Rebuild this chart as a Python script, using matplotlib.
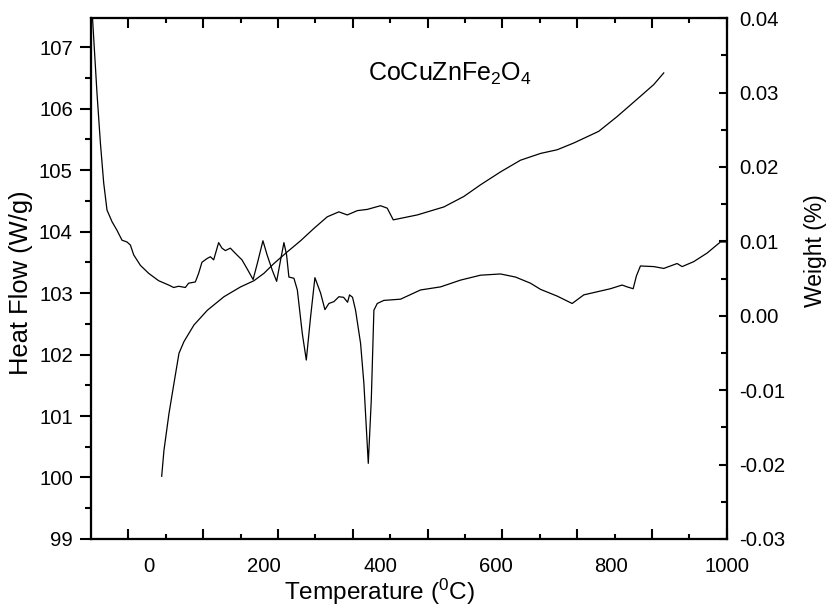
import numpy as np
import matplotlib
matplotlib.use("Agg")
import matplotlib.pyplot as plt

plt.rcParams['font.family'] = ['Liberation Sans', 'DejaVu Sans']
plt.rcParams['mathtext.fontset'] = 'custom'
plt.rcParams['mathtext.rm'] = 'Liberation Sans'
plt.rcParams['mathtext.it'] = 'Liberation Sans'

# heat flow curve (DSC), W/g
dsc_t = [-97, -89.4, -83.5, -77.8, -72.1, -63.4, -54.8, -46.2, -37.5, -31.6,
         -25.9, -14.3, 0, 17.3, 34.6, 43.2, 51.9, 63.4, 69.1, 80.7,
         86.4, 92.1, 100.8, 106.7, 112.4, 121.0, 126.7, 132.6, 141.2, 152.6,
         161.3, 169.9, 180.6, 188.4, 197.6, 204.8, 213.8, 221.3, 228.2, 233.9,
         238.5, 242.5, 251.2, 257.1, 265.7, 272.6, 280.0, 287.5, 297.3, 304.8,
         311.7, 320.3, 329.0, 337.1, 344.0, 347.4, 352.6, 357.8, 366.5, 372.2,
         379.8, 385.0, 389.5, 395.3, 406.7, 435.6, 470.2, 504.8, 539.3, 573.9,
         608.5, 634.4, 660.3, 677.6, 706.5, 732.4, 752.5, 775.6, 798.6, 818.8,
         827.5, 837.9, 843.6, 850.5, 873.5, 890.8, 913.9, 922.6, 942.6, 965.8,
         988.8, 999.1]
dsc_hf = [107.45, 106.25, 105.44, 104.79, 104.35, 104.16, 104.02, 103.86, 103.83, 103.78,
          103.62, 103.45, 103.32, 103.20, 103.13, 103.09, 103.11, 103.09, 103.16, 103.18,
          103.32, 103.50, 103.56, 103.59, 103.54, 103.82, 103.73, 103.69, 103.73, 103.62,
          103.54, 103.40, 103.22, 103.50, 103.85, 103.62, 103.37, 103.19, 103.54, 103.82,
          103.62, 103.26, 103.24, 103.05, 102.34, 101.91, 102.61, 103.25, 103.00, 102.73,
          102.83, 102.86, 102.94, 102.93, 102.85, 102.97, 102.93, 102.72, 102.18, 101.53,
          100.23, 101.26, 102.72, 102.83, 102.88, 102.90, 103.05, 103.10, 103.21, 103.29,
          103.31, 103.26, 103.16, 103.06, 102.95, 102.83, 102.97, 103.02, 103.07, 103.13,
          103.10, 103.07, 103.28, 103.44, 103.43, 103.40, 103.48, 103.43, 103.51, 103.65,
          103.83, 103.83]

# weight curve (TGA), drawn against the left scale
tga_t = [22.5, 26.4, 35.1, 43.7, 52.4, 61.0, 78.3, 101.5, 130.2, 159.0,
         182.0, 199.3, 216.6, 239.8, 262.7, 285.7, 308.9, 328.9, 343.5, 360.8,
         378.0, 401.0, 412.6, 423.0, 464.5, 510.5, 545.0, 573.9, 608.5, 643.0,
         677.6, 706.5, 735.2, 778.4, 810.2, 850.5, 873.5, 890.8]
tga_w = [100.02, 100.44, 101.04, 101.53, 102.02, 102.21, 102.48, 102.72, 102.94, 103.10,
         103.20, 103.32, 103.48, 103.67, 103.85, 104.05, 104.24, 104.32, 104.27, 104.34,
         104.36, 104.42, 104.38, 104.19, 104.27, 104.40, 104.57, 104.76, 104.97, 105.16,
         105.27, 105.33, 105.44, 105.63, 105.87, 106.20, 106.39, 106.58]

x_labels = [0, 200, 400, 600, 800, 1000]
left_ticks = [99, 100, 101, 102, 103, 104, 105, 106, 107]
right_ticks = [-0.03, -0.02, -0.01, 0.00, 0.01, 0.02, 0.03, 0.04]

fig = plt.figure(figsize=(8.26, 6.06), dpi=100)
ax = fig.add_axes([0.110, 0.1106, 0.770, 0.8594])

ax.plot(dsc_t, dsc_hf, color='black', lw=0.9)
ax.plot(tga_t, tga_w, color='black', lw=0.9)

ax.set_xlim(-100, 1000)
ax.set_ylim(99, 107.47)

# x labels without marks
ax.set_xticks(x_labels)
ax.set_xticklabels([str(v) for v in x_labels])
ax.tick_params(axis='x', length=0, pad=13, labelsize=14.6)

# left axis
ax.set_yticks(left_ticks)
ax.set_yticks(np.arange(99.5, 107.5, 1.0), minor=True)
ax.tick_params(axis='y', which='major', direction='out', length=8, width=1.5,
               labelsize=14.6, pad=5)
ax.tick_params(axis='y', which='minor', direction='out', length=4, width=1.5)

# x tick marks, offset from labels as in the original
axm = ax.twiny()
axm.set_xlim(-100, 1000)
step = 1100 / 8.5
axm.set_xticks(-100 + step * (np.arange(9) + 0.5))
axm.set_xticks(-100 + step * np.arange(1, 9), minor=True)
axm.tick_params(axis='x', which='both', bottom=True, top=True,
                labelbottom=False, labeltop=False, direction='in', width=1.5)
axm.tick_params(axis='x', which='major', length=7)
axm.tick_params(axis='x', which='minor', length=3.5)

# right axis
axr = ax.twinx()
axr.set_ylim(-0.03, 0.04)
axr.set_yticks(right_ticks)
axr.set_yticklabels(['%.2f' % v for v in right_ticks])
axr.set_yticks(np.arange(-0.025, 0.04, 0.01), minor=True)
axr.tick_params(axis='y', which='major', direction='in', length=6, width=1.5,
                labelsize=14.6, pad=8.6)
axr.tick_params(axis='y', which='minor', direction='in', length=4, width=1.5)

for a in (ax, axm, axr):
    for s in a.spines.values():
        s.set_linewidth(1.5)

ax.set_xlabel('Temperature ($^0$C)', fontsize=17.6)
ax.xaxis.label.set_va('baseline')
ax.xaxis.set_label_coords(0.4544, -0.117)
ax.set_ylabel('Heat Flow (W/g)', fontsize=18.4)
ax.yaxis.set_label_coords(-0.0912, 0.492)
axr.set_ylabel('Weight (%)', fontsize=16.5)
axr.yaxis.set_label_coords(1.121, 0.554)

ax.text(380, 106.45, 'CoCuZnFe$_2$O$_4$', fontsize=18, va='baseline', ha='left')

fig.savefig('out.png', dpi=100)
